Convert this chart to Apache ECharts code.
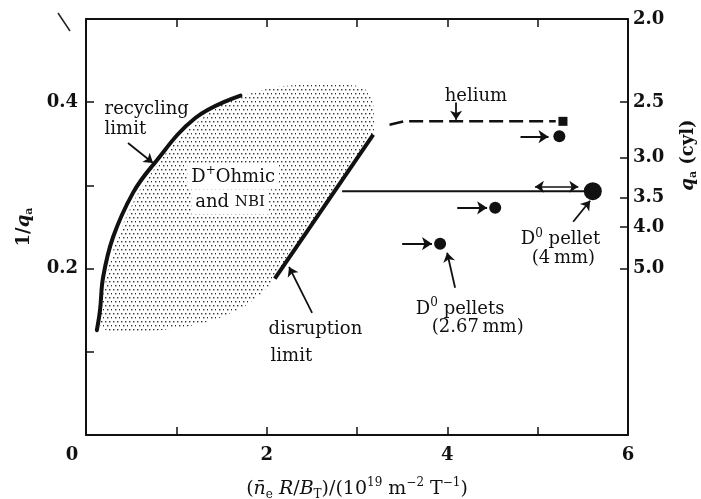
<!DOCTYPE html>
<html>
<head>
<meta charset="utf-8">
<script src="https://cdn.jsdelivr.net/npm/echarts@6/dist/echarts.min.js"></script>
<style>
  html, body { margin: 0; padding: 0; background: #fff; }
  #chart { width: 701px; height: 499px; }
</style>
</head>
<body>
<div id="chart"></div>
<script>
// Tokamak operating diagram: normalised density against 1/q_a

// tick labels
const xTickLabels = [0, 2, 4, 6];
const leftTickLabels = [0.2, 0.4];
const qaTicks = [2.0, 2.5, 3.0, 3.5, 4.0, 5.0];

// boundaries
const recyclingLimit = [
  [0.12, 0.126], [0.155, 0.150], [0.19, 0.190], [0.30, 0.238],
  [0.52, 0.291], [0.73, 0.323], [1.21, 0.381], [1.71, 0.408]
];
const disruptionLimit = [[2.09, 0.188], [3.18, 0.361]];

// D+ ohmic / NBI operating region
const ohmicNbiRegion = [
  [1.739, 0.407], [1.927, 0.414], [2.148, 0.419], [2.370, 0.421],
  [2.702, 0.422], [2.979, 0.420], [3.123, 0.413], [3.178, 0.398],
  [3.178, 0.361], [2.093, 0.188], [1.949, 0.171], [1.761, 0.155],
  [1.484, 0.141], [1.152, 0.131], [0.819, 0.126], [0.487, 0.124],
  [0.244, 0.125], [0.155, 0.132], [0.166, 0.150], [0.199, 0.174],
  [0.244, 0.199], [0.321, 0.229], [0.432, 0.259], [0.576, 0.291],
  [0.731, 0.316], [0.930, 0.345], [1.207, 0.374], [1.484, 0.396]
];

// helium discharges
const heliumPath = [[3.36, 0.373], [3.52, 0.377], [5.20, 0.377]];
const heliumPoint = [[5.28, 0.377]];

// pellet-fuelled discharges
const pellets267 = [[5.24, 0.359], [4.53, 0.273], [3.92, 0.230]];
const pellet4 = [[5.61, 0.293]];
const pellet4Sweep = [[2.835, 0.293], [5.61, 0.293]];

// arrows, as [x1, y1, x2, y2]
const shiftArrows = [
  [4.81, 0.3586, 5.12, 0.3586],
  [4.11, 0.273, 4.44, 0.273],
  [3.50, 0.230, 3.83, 0.230]
];
const spreadArrow = [4.97, 0.2984, 5.45, 0.2984];
const pointers = [
  [0.465, 0.351, 0.742, 0.327],
  [4.097, 0.3995, 4.097, 0.379],
  [2.503, 0.1468, 2.248, 0.202],
  [5.393, 0.2563, 5.581, 0.2816],
  [4.086, 0.1769, 3.998, 0.219]
];
const pointerBend = [-0.15, 0, -0.3, 0, -0.15];

// annotation text lines: [x, y, text]
const notes = [
  [0.20, 0.391, 'recycling'],
  [0.20, 0.367, 'limit'],
  [1.115, 0.3105, 'D{sup|+}Ohmic'],
  [1.16, 0.2804, 'and {sc|NBI}'],
  [3.966, 0.4067, 'helium'],
  [2.016, 0.1276, 'disruption'],
  [2.038, 0.0951, 'limit'],
  [4.808, 0.2347, 'D{sup|0} pellet'],
  [4.930, 0.2118, '(4\u2009mm)'],
  [3.646, 0.1516, 'D{sup|0} pellets'],
  [3.823, 0.130, '(2.67\u2009mm)']
];
const boxedNotes = [2, 3];

const SERIF = '"DejaVu Serif", "Liberation Serif", serif';
const INK = '#111';

// stipple tile for the shaded region
const tile = document.createElement('canvas');
tile.width = 8; tile.height = 8;
const tg = tile.getContext('2d');
tg.fillStyle = '#333';
[[1, 1], [5, 1], [3, 5], [7, 5]].forEach(([x, y]) => tg.fillRect(x, y, 1.4, 1.4));
const stipple = { image: tile, repeat: 'repeat' };

const chart = echarts.init(document.getElementById('chart'), null, { renderer: 'canvas' });

const labelFont = { fontFamily: SERIF, fontWeight: 'bold', fontSize: 18, color: INK };
const axisLineStyle = { color: INK, width: 2 };
const tickStyle = { color: INK, width: 1.5 };

function arrowLine(a, opts) {
  return [
    { coord: [a[0], a[1]], symbol: opts.startSymbol || 'none', symbolSize: opts.size || 9,
      lineStyle: { color: INK, width: opts.width || 2, type: 'solid', curveness: opts.curveness || 0 } },
    { coord: [a[2], a[3]], symbol: 'arrow', symbolSize: opts.size || 9 }
  ];
}

const markLines = []
  .concat(shiftArrows.map(a => arrowLine(a, { width: 2, size: 10 })))
  .concat([arrowLine(spreadArrow, { width: 1.5, size: 9, startSymbol: 'arrow' })])
  .concat(pointers.map((a, i) => arrowLine(a, { width: 1.8, size: 9, curveness: pointerBend[i] })));

const noteRich = {
  sup: { fontFamily: SERIF, fontSize: 12, lineHeight: 10, verticalAlign: 'top', color: INK },
  sc: { fontFamily: SERIF, fontSize: 15, lineHeight: 24, color: INK }
};

const option = {
  animation: false,
  backgroundColor: '#fff',
  grid: { left: 86, right: 73, top: 19, bottom: 64, containLabel: false, outerBoundsMode: 'none' },
  xAxis: [
    {
      type: 'value', position: 'bottom', min: 0, max: 6, interval: 1,
      axisLine: { show: true, onZero: false, lineStyle: axisLineStyle },
      axisTick: { show: true, inside: true, length: 8, lineStyle: tickStyle },
      splitLine: { show: false },
      axisLabel: Object.assign({}, labelFont, {
        margin: 11,
        formatter: v => {
          if (!xTickLabels.includes(v)) return '';
          return v === 0 ? '{z|0}' : String(v);
        },
        rich: { z: Object.assign({}, labelFont, { padding: [0, 28, 0, 0] }) }
      }),
      name: '({i|n\u0304}{sb|e}{i| R}/{i|B}{sb|T})/(10{sp|19} m{sp|\u22122} T{sp|\u22121})',
      nameLocation: 'middle', nameGap: 42,
      nameTextStyle: {
        fontFamily: SERIF, fontSize: 19, lineHeight: 24, color: INK,
        rich: {
          i: { fontFamily: SERIF, fontStyle: 'italic', fontSize: 19, lineHeight: 24, color: INK },
          sb: { fontFamily: SERIF, fontSize: 12, lineHeight: 16, verticalAlign: 'bottom', color: INK },
          sp: { fontFamily: SERIF, fontSize: 12, lineHeight: 11, verticalAlign: 'top', color: INK }
        }
      }
    },
    {
      type: 'value', position: 'top', min: 0, max: 6, interval: 1,
      axisLine: { show: true, onZero: false, lineStyle: axisLineStyle },
      axisTick: { show: true, inside: true, length: 8, lineStyle: tickStyle },
      axisLabel: { show: false },
      splitLine: { show: false }
    }
  ],
  yAxis: [
    {
      type: 'value', position: 'left', min: 0, max: 0.5, interval: 0.1,
      axisLine: { show: true, onZero: false, lineStyle: axisLineStyle },
      axisTick: { show: true, inside: true, length: 8, lineStyle: tickStyle },
      splitLine: { show: false },
      axisLabel: Object.assign({}, labelFont, {
        margin: 8,
        formatter: v => {
          const hit = leftTickLabels.find(t => Math.abs(t - v) < 1e-6);
          return hit === undefined ? '' : hit.toFixed(1);
        }
      }),
      name: '1/{q|q}{a|a}',
      nameLocation: 'middle', nameGap: 51, nameRotate: 90,
      nameTextStyle: {
        fontFamily: SERIF, fontWeight: 'bold', fontSize: 18, lineHeight: 22, color: INK,
        rich: {
          q: { fontFamily: SERIF, fontWeight: 'bold', fontStyle: 'italic', fontSize: 18, lineHeight: 22, color: INK },
          a: { fontFamily: SERIF, fontWeight: 'bold', fontSize: 11, lineHeight: 12, verticalAlign: 'bottom', color: INK }
        }
      }
    },
    {
      type: 'value', position: 'right', min: 0, max: 0.5,
      axisLine: { show: true, onZero: false, lineStyle: axisLineStyle },
      axisTick: { show: true, inside: true, length: 8, lineStyle: tickStyle,
        customValues: qaTicks.slice(1).map(q => 1 / q) },
      splitLine: { show: false },
      axisLabel: Object.assign({}, labelFont, {
        margin: 5,
        customValues: qaTicks.map(q => 1 / q),
        formatter: v => (1 / v).toFixed(1)
      })
    }
  ],
  graphic: [
    {
      type: 'text', x: 688, y: 155, rotation: Math.PI / 2,
      style: {
        text: '{q|q}{a|a} (cyl)',
        align: 'center', verticalAlign: 'middle',
        fontFamily: SERIF, fontWeight: 'bold', fontSize: 18, lineHeight: 22, fill: INK,
        rich: {
          q: { fontFamily: SERIF, fontWeight: 'bold', fontStyle: 'italic', fontSize: 18, lineHeight: 22, fill: INK },
          a: { fontFamily: SERIF, fontWeight: 'bold', fontSize: 11, lineHeight: 12, verticalAlign: 'bottom', fill: INK }
        }
      }
    },
    { type: 'line', shape: { x1: 58, y1: 13, x2: 70, y2: 31 }, style: { stroke: '#222', lineWidth: 1.5 } }
  ],
  series: [
    {
      name: 'D+ ohmic and NBI',
      type: 'custom', z: 1, silent: true,
      data: [[0]],
      renderItem: (params, api) => {
        const pts = ohmicNbiRegion.map(p => api.coord(p));
        return { type: 'polygon', shape: { points: pts, smooth: 0.15 }, style: { fill: stipple, stroke: null } };
      }
    },
    {
      name: 'recycling limit', type: 'line', z: 4, data: recyclingLimit,
      smooth: 0.4, showSymbol: false, symbol: 'none',
      lineStyle: { color: INK, width: 4, cap: 'round' }
    },
    {
      name: 'disruption limit', type: 'line', z: 4, data: disruptionLimit,
      showSymbol: false, symbol: 'none',
      lineStyle: { color: INK, width: 4 }
    },
    {
      name: 'pellet 4 mm range', type: 'line', z: 4, data: pellet4Sweep,
      showSymbol: false, symbol: 'none',
      lineStyle: { color: INK, width: 2 }
    },
    {
      name: 'helium', type: 'line', z: 4, data: heliumPath,
      showSymbol: false, symbol: 'none',
      lineStyle: { color: INK, width: 2.5, type: [14, 6] }
    },
    {
      name: 'helium end', type: 'scatter', z: 5, data: heliumPoint,
      symbol: 'rect', symbolSize: 9, itemStyle: { color: INK, opacity: 1 }
    },
    {
      name: 'pellets 2.67 mm', type: 'scatter', z: 5, data: pellets267,
      symbol: 'circle', symbolSize: 12, itemStyle: { color: INK, opacity: 1 }
    },
    {
      name: 'pellet 4 mm', type: 'scatter', z: 5, data: pellet4,
      symbol: 'circle', symbolSize: 18, itemStyle: { color: INK, opacity: 1 }
    },
    {
      name: 'arrows', type: 'line', z: 5, data: [],
      markLine: {
        silent: true, animation: false,
        label: { show: false },
        emphasis: { disabled: true },
        data: markLines
      }
    },
    {
      name: 'notes', type: 'scatter', z: 6, silent: true,
      symbolSize: 1, itemStyle: { color: 'rgba(0,0,0,0)', opacity: 1 },
      data: notes.map((n, i) => ({
        value: [n[0], n[1]],
        label: boxedNotes.includes(i)
          ? { backgroundColor: '#fff', padding: [1, 4, 0, 4] }
          : {}
      })),
      label: {
        show: true, position: 'right', distance: 0,
        fontFamily: SERIF, fontSize: 18, lineHeight: 24, color: INK,
        formatter: p => notes[p.dataIndex][2],
        rich: noteRich
      }
    }
  ]
};

chart.setOption(option);
</script>
</body>
</html>
